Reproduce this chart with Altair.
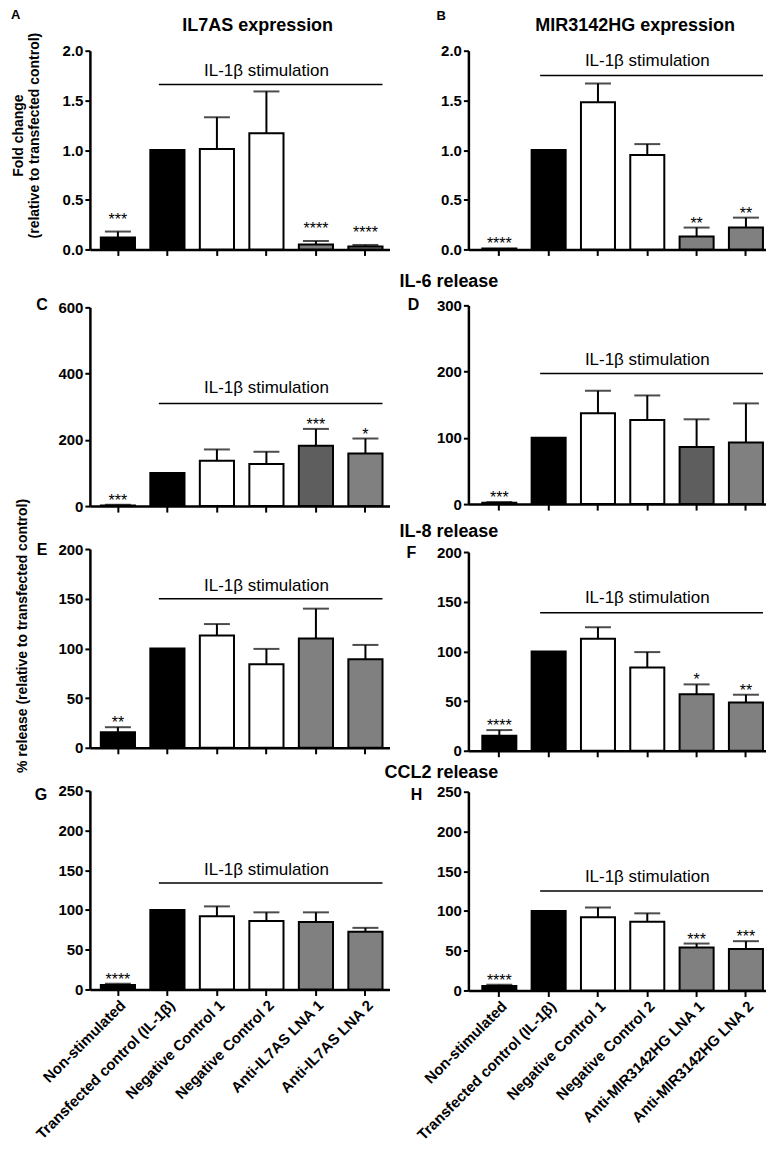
import altair as alt
import pandas as pd

cats_left = ["Non-stimulated", "Transfected control (IL-1β)", "Negative Control 1",
             "Negative Control 2", "Anti-IL7AS LNA 1", "Anti-IL7AS LNA 2"]
cats_right = ["Non-stimulated", "Transfected control (IL-1β)", "Negative Control 1",
              "Negative Control 2", "Anti-MIR3142HG LNA 1", "Anti-MIR3142HG LNA 2"]

BLACK, WHITE, GRAY, DGRAY = "#000000", "#ffffff", "#808080", "#5e5e5e"
colors_std = [BLACK, BLACK, WHITE, WHITE, GRAY, GRAY]
colors_il6 = [BLACK, BLACK, WHITE, WHITE, DGRAY, GRAY]

# A: IL7AS expression
A_mean = [0.12, 1.00, 1.01, 1.17, 0.05, 0.03]
A_upper = [0.18, None, 1.33, 1.59, 0.085, 0.045]
A_stars = ["***", "", "", "", "****", "****"]
# B: MIR3142HG expression
B_mean = [0.01, 1.00, 1.48, 0.95, 0.13, 0.22]
B_upper = [None, None, 1.67, 1.06, 0.22, 0.32]
B_stars = ["****", "", "", "", "**", "**"]
# C: IL-6 (IL7AS)
C_mean = [2, 100, 137, 127, 182, 159]
C_upper = [4, None, 171, 164, 233, 204]
C_stars = ["***", "", "", "", "***", "*"]
# D: IL-6 (MIR3142HG)
D_mean = [2, 100, 137, 127, 86, 93]
D_upper = [3, None, 171, 164, 128, 152]
D_stars = ["***", "", "", "", "", ""]
# E: IL-8 (IL7AS)
E_mean = [15.5, 100, 113, 84, 110, 89]
E_upper = [20.7, None, 124.5, 99.5, 140, 103.5]
E_stars = ["**", "", "", "", "", ""]
# F: IL-8 (MIR3142HG)
F_mean = [15, 100, 112.7, 83.7, 57, 48.7]
F_upper = [20.8, None, 124.3, 99.3, 66.8, 56.4]
F_stars = ["****", "", "", "", "*", "**"]
# G: CCL2 (IL7AS)
G_mean = [5.5, 100, 92, 86, 85, 72.5]
G_upper = [7.2, None, 104.5, 97, 97, 77.5]
G_stars = ["****", "", "", "", "", ""]
# H: CCL2 (MIR3142HG)
H_mean = [5.5, 100, 92, 86.5, 54, 52]
H_upper = [7.2, None, 104.5, 97, 59, 62]
H_stars = ["****", "", "", "", "***", "***"]

STIM = "IL-1β  stimulation"
FONT = "Liberation Sans"
PH = 199


def txt(t, x, y, size=16, weight="bold", align="center", angle=0, baseline="middle"):
    kw = dict(fontSize=size, fontWeight=weight, align=align, baseline=baseline, font=FONT, color="black")
    if angle:
        kw["angle"] = angle
    return alt.Chart(pd.DataFrame({"t": [t]})).mark_text(**kw).encode(
        x=alt.value(x), y=alt.value(y), text="t:N")


def panel(cats, mean, upper, stars, colors, ymax, yticks, yfmt, width, pad_outer, band_align,
          line_y, text_y, show_labels, texts, star_dy=1):
    df = pd.DataFrame({"cat": cats, "mean": mean,
                       "upper": [u if u is not None else float("nan") for u in upper],
                       "star": stars, "color": colors,
                       "star_y": [u if u is not None else m for u, m in zip(upper, mean)]})
    xscale = alt.Scale(domain=cats, paddingInner=0.31, paddingOuter=pad_outer, align=band_align)
    yscale = alt.Scale(domain=[0, ymax], nice=False)
    xaxis = alt.Axis(title=None, labels=show_labels, labelAngle=-45, labelAlign="right",
                     labelBaseline="top", labelFontSize=15, labelFontWeight="bold",
                     labelLimit=400, labelPadding=2, labelColor="black", labelFont=FONT,
                     tickSize=6, tickWidth=2, tickColor="black", offset=0,
                     domainWidth=2.5, domainColor="black", grid=False)
    yaxis_kw = dict(title=None, values=yticks, grid=False, tickSize=5, tickWidth=2,
                    tickColor="black", domainWidth=2.5, domainColor="black", offset=0,
                    labelFontSize=15, labelFontWeight="bold", labelPadding=2,
                    labelColor="black", labelFont=FONT)
    if yfmt:
        yaxis_kw["format"] = yfmt
    yaxis = alt.Axis(**yaxis_kw)

    def X(field, **kw):
        return alt.X(f"{field}:N", scale=xscale, axis=xaxis, **kw)

    def Y(field):
        return alt.Y(f"{field}:Q", scale=yscale, axis=yaxis)

    base = alt.Chart(df)
    bars = base.mark_bar(stroke="black", strokeWidth=2).encode(
        x=X("cat"), y=Y("mean"), color=alt.Color("color:N", scale=None))
    err = base.transform_filter("isValid(datum.upper)").mark_rule(
        color="black", strokeWidth=2).encode(x=X("cat"), y=Y("mean"), y2="upper:Q")
    cap = base.transform_filter("isValid(datum.upper)").mark_tick(
        color="black", thickness=2, size=26, orient="horizontal").encode(
        x=X("cat"), y=Y("upper"))
    star = base.transform_filter("datum.star != ''").mark_text(
        fontSize=16, baseline="alphabetic", dy=star_dy, font=FONT, color="black").encode(
        x=X("cat"), y=Y("star_y"), text="star:N")

    stim_df = pd.DataFrame({"start": [cats[1]], "end": [cats[5]], "mid": [cats[3]],
                            "ly": [line_y], "ty": [text_y], "label": [STIM]})
    rule = alt.Chart(stim_df).mark_rule(color="black", strokeWidth=1.5).encode(
        x=X("start", bandPosition=0.25), x2=alt.X2("end:N", bandPosition=1.0), y=Y("ly"))
    stimtext = alt.Chart(stim_df).mark_text(fontSize=17, font=FONT, color="black").encode(
        x=X("mid"), y=Y("ty"), text="label:N")

    return alt.layer(bars, err, cap, star, rule, stimtext, *texts).properties(
        width=width, height=PH)


WL, WR = 300, 298
POL, POR = 0.181, 0.172
ALL, ALR = 0.61, 0.82
t01 = [0, 0.5, 1.0, 1.5, 2.0]

A = panel(cats_left, A_mean, A_upper, A_stars, colors_std, 2, t01, ".1f", WL, POL, ALL, 1.66, 1.80, False,
          [txt("A", -79, -36, size=13, align="left"),
           txt("IL7AS expression", 168, -25, size=18),
           txt("Fold change", -71, 85, size=14, angle=270),
           txt("(relative to transfected control)", -55, 85, size=14, angle=270)], star_dy=-7)
B = panel(cats_right, B_mean, B_upper, B_stars, colors_std, 2, t01, ".1f", WR, POR, ALR, 1.75, 1.90, False,
          [txt("B", -32, -35, size=13, align="left"),
           txt("MIR3142HG expression", 167, -25, size=18)])
C = panel(cats_left, C_mean, C_upper, C_stars, colors_il6, 600, [0, 200, 400, 600], None, WL, POL, ALL,
          310, 355, False, [txt("C", -48, -2)])
D = panel(cats_right, D_mean, D_upper, D_stars, colors_il6, 300, [0, 100, 200, 300], None, WR, POR, ALR,
          197, 218, False, [txt("D", -55, 0), txt("IL-6 release", 30, -23, size=18, align="right")])
E = panel(cats_left, E_mean, E_upper, E_stars, colors_std, 200, [0, 50, 100, 150, 200], None, WL, POL, ALL,
          150, 163, False,
          [txt("E", -48, 1),
           txt("% release (relative to transfected control)", -67, 87, size=14, angle=270)])
F = panel(cats_right, F_mean, F_upper, F_stars, colors_std, 200, [0, 50, 100, 150, 200], None, WR, POR, ALR,
          139, 154, False, [txt("F", -57, 1), txt("IL-8 release", 30, -20, size=18, align="right")])
G = panel(cats_left, G_mean, G_upper, G_stars, colors_std, 250, [0, 50, 100, 150, 200, 250], None, WL, POL, ALL,
          134, 150, True, [txt("G", -49, 4)])
H = panel(cats_right, H_mean, H_upper, H_stars, colors_std, 250, [0, 50, 100, 150, 200, 250], None, WR, POR, ALR,
          125, 143, True, [txt("H", -52, 3), txt("CCL2 release", 30, -19, size=18, align="right")])

left = alt.vconcat(A, alt.vconcat(C, E, G, spacing=43, bounds="flush"), spacing=58, bounds="flush")
right = alt.vconcat(B, alt.vconcat(D, alt.vconcat(F, H, spacing=41, bounds="flush"),
                                   spacing=48, bounds="flush"), spacing=56, bounds="flush")

chart = alt.hconcat(left, right, spacing=-6).properties(
    padding={"left": 3, "top": 0, "right": 0, "bottom": 0}
).configure(font=FONT).configure_view(stroke=None)

chart.save("out.html", embed_options={"renderer": "svg", "actions": False})
